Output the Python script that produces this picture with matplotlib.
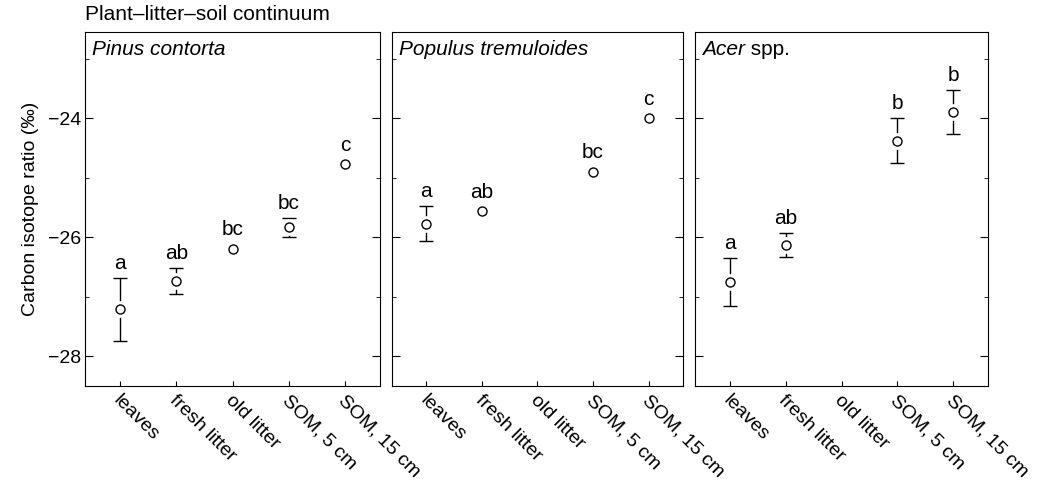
import numpy as np
import matplotlib
matplotlib.use('Agg')
import matplotlib.pyplot as plt
import matplotlib.transforms as mtransforms
from matplotlib.ticker import MultipleLocator

plt.rcParams['font.family'] = ['Liberation Sans', 'DejaVu Sans']
plt.rcParams['font.size'] = 14

# categories along the plant-litter-soil continuum
stages = ['leaves', 'fresh litter', 'old litter', 'SOM, 5 cm', 'SOM, 15 cm']

# carbon isotope ratio (permil), mean and error per stage (nan = not sampled)
pinus_mean = [-27.21, -26.74, -26.19, -25.83, -24.77]
pinus_err = [0.53, 0.22, 0.0, 0.16, 0.0]
pinus_letters = ['a', 'ab', 'bc', 'bc', 'c']

populus_mean = [-25.77, -25.56, np.nan, -24.90, -24.00]
populus_err = [0.29, 0.0, np.nan, 0.0, 0.0]
populus_letters = ['a', 'ab', '', 'bc', 'c']

acer_mean = [-26.75, -26.13, np.nan, -24.38, -23.90]
acer_err = [0.40, 0.20, np.nan, 0.38, 0.37]
acer_letters = ['a', 'ab', '', 'b', 'b']

panels = [
    ('Pinus contorta', '', pinus_mean, pinus_err, pinus_letters),
    ('Populus tremuloides', '', populus_mean, populus_err, populus_letters),
    ('Acer', ' spp.', acer_mean, acer_err, acer_letters),
]

fig = plt.figure(figsize=(10.39, 4.87), dpi=100)
W, H = 1039, 487
lefts = [85, 392, 695]
widths = [295, 291, 293]
top, bottom = 32, 386

x = np.arange(len(stages))
px_per_unit = (bottom - top) / (-22.55 + 28.5)
shift = mtransforms.ScaledTranslation(-4 / 100, 0, fig.dpi_scale_trans)

for i, (name, suffix, mean, err, letters) in enumerate(panels):
    ax = fig.add_axes([lefts[i] / W, (H - bottom) / H,
                       widths[i] / W, (bottom - top) / H])
    mean = np.array(mean)
    err = np.array(err)

    has_bar = np.nan_to_num(err) > 0
    ax.errorbar(x[has_bar], mean[has_bar], yerr=err[has_bar], fmt='none',
                ecolor='black', elinewidth=1, capsize=5, capthick=1, zorder=1)
    # white halo leaves a small gap between circle and whiskers
    ax.plot(x, mean, 'o', ms=12, mfc='white', mec='none', zorder=2)
    ax.plot(x, mean, 'o', ms=6.5, mfc='white', mec='black', mew=1, zorder=3)

    for xi, m, e, lab in zip(x, mean, err, letters):
        if not lab:
            continue
        e = 0 if np.isnan(e) else e
        off_px = 5 + max(0, 4.5 - e * px_per_unit)
        ax.annotate(lab, (xi, m + e), xytext=(0, off_px * 0.72),
                    textcoords='offset points', ha='center', va='bottom',
                    fontsize=15)

    ax.set_xlim(-0.62, 4.62)
    ax.set_ylim(-28.5, -22.55)
    ax.yaxis.set_major_locator(MultipleLocator(2))
    ax.yaxis.set_minor_locator(MultipleLocator(1))
    ax.tick_params(axis='y', which='major', direction='in', length=5.5,
                   left=True, right=True, labelsize=14, pad=3)
    ax.tick_params(axis='y', which='minor', direction='in', length=3,
                   left=True, right=True)
    ax.tick_params(axis='x', direction='in', length=3.5, top=False)
    ax.set_xticks(x)
    ax.set_xticklabels(stages, rotation=-45, ha='left', va='center',
                       rotation_mode='anchor', fontsize=14)
    for lab in ax.get_xticklabels():
        lab.set_y(-0.02)
        lab.set_transform(lab.get_transform() + shift)
    if i > 0:
        ax.set_yticklabels([])
    else:
        ax.set_ylabel('Carbon isotope ratio (‰)', fontsize=14, labelpad=6)

    t = ax.text(0.025, 0.978, name, transform=ax.transAxes, ha='left',
                va='top', fontsize=15, style='italic')
    if suffix:
        ax.annotate(suffix, xy=(1, 0), xycoords=t, ha='left', va='bottom',
                    fontsize=15)

fig.text(85 / W, 1 - 15 / H, 'Plant–litter–soil continuum', ha='left',
         va='center', fontsize=15)

fig.savefig('out.png', dpi=100)
